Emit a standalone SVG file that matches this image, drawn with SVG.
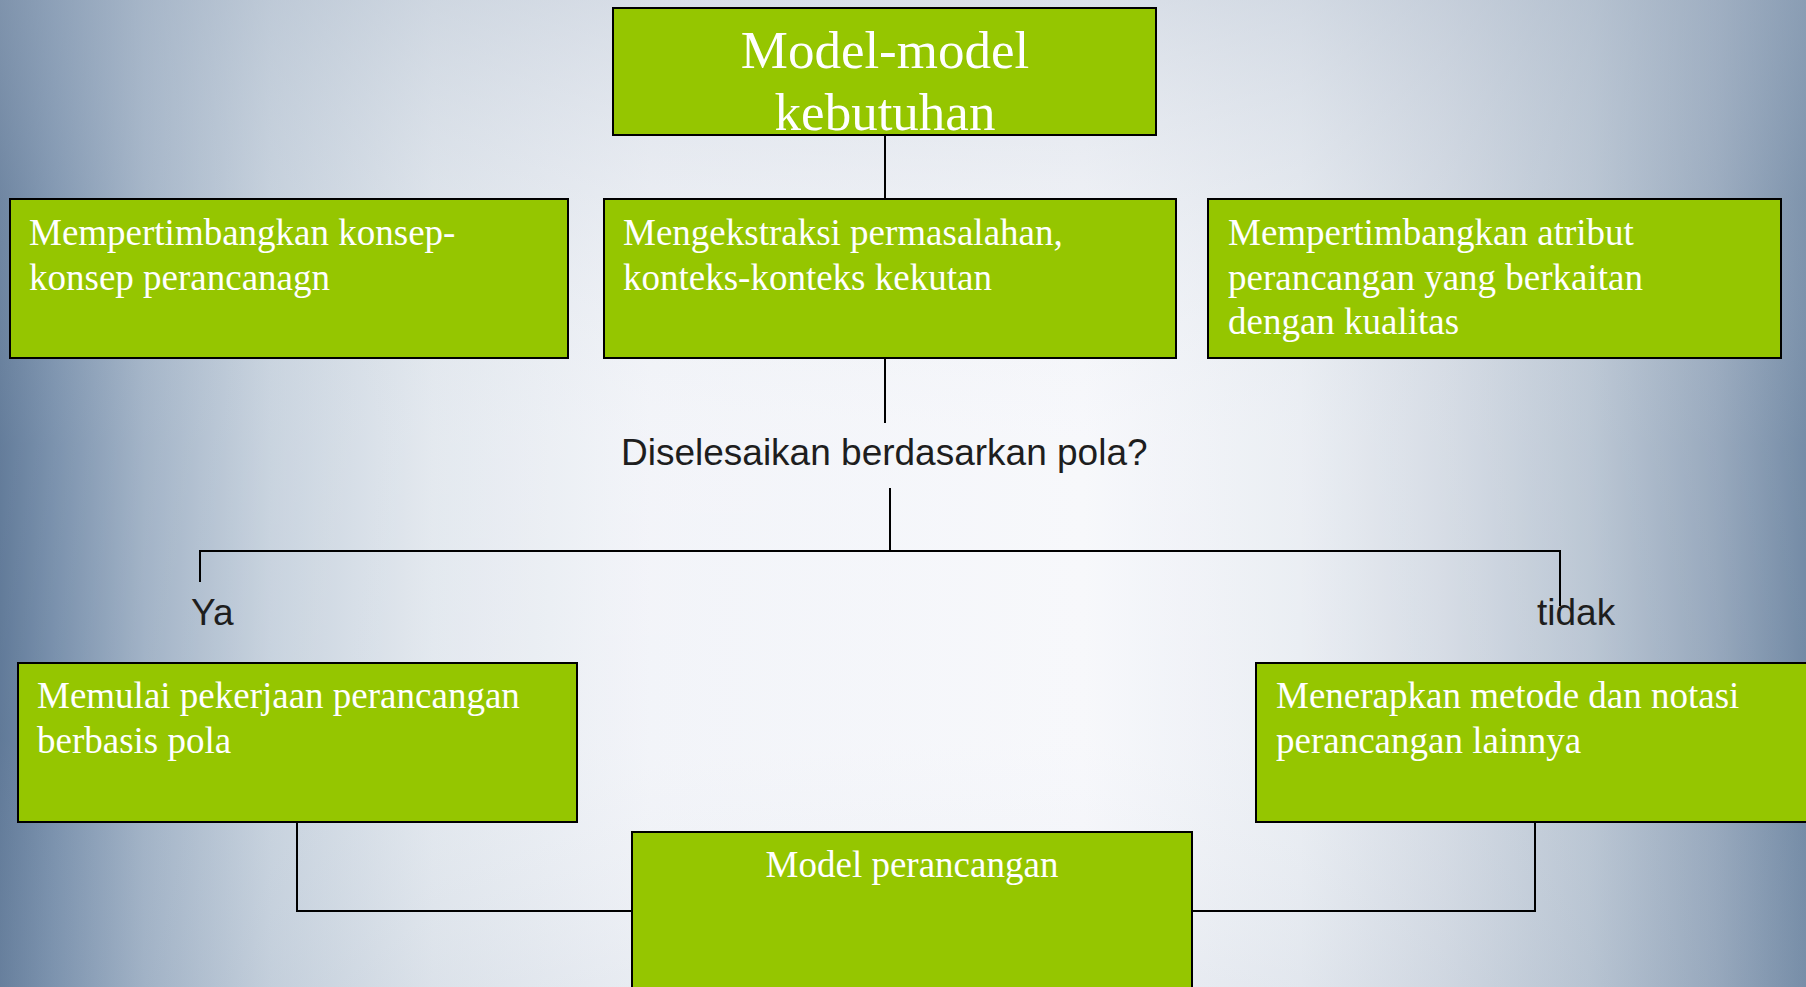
<svg xmlns="http://www.w3.org/2000/svg" width="1806" height="987" viewBox="0 0 1806 987">
<defs>
<linearGradient id="bgH" x1="0" y1="0" x2="1" y2="0">
<stop offset="0" stop-color="#4f6b8d"/>
<stop offset="0.03" stop-color="#6a84a3"/>
<stop offset="0.08" stop-color="#97aac0"/>
<stop offset="0.15" stop-color="#c2cedb"/>
<stop offset="0.24" stop-color="#e0e6ed"/>
<stop offset="0.36" stop-color="#f1f3f8"/>
<stop offset="0.6" stop-color="#f6f7fb"/>
<stop offset="0.72" stop-color="#e8ecf2"/>
<stop offset="0.8" stop-color="#d1d8e2"/>
<stop offset="0.88" stop-color="#b3c0cf"/>
<stop offset="0.95" stop-color="#8b9eb5"/>
<stop offset="1" stop-color="#637d9b"/>
</linearGradient>
<linearGradient id="bgV" x1="0" y1="0" x2="0" y2="1">
<stop offset="0" stop-color="#b9c4d2" stop-opacity="0.45"/>
<stop offset="0.2" stop-color="#d2d9e2" stop-opacity="0.25"/>
<stop offset="0.45" stop-color="#ffffff" stop-opacity="0.12"/>
<stop offset="0.75" stop-color="#ffffff" stop-opacity="0.1"/>
<stop offset="1" stop-color="#c8d1dc" stop-opacity="0.2"/>
</linearGradient>
</defs>
<style>
.box{fill:#95c600;stroke:#000;stroke-width:2}
.bt{font-family:"Liberation Serif","Times New Roman",serif;font-size:37px;fill:#fff}
.bt-big{font-family:"Liberation Serif","Times New Roman",serif;font-size:53px;fill:#fff}
.lbl{font-family:"Liberation Sans",Arial,sans-serif;font-size:37px;fill:#1e1e1e}
.conn{fill:none;stroke:#000;stroke-width:2}
</style>
<rect x="0" y="0" width="1806" height="987" fill="url(#bgH)"/>
<rect x="0" y="0" width="1806" height="987" fill="url(#bgV)"/>

<g id="connectors">
<line class="conn" x1="885" y1="135" x2="885" y2="199"/>
<line class="conn" x1="885" y1="358" x2="885" y2="423"/>
<line class="conn" x1="890" y1="488" x2="890" y2="551"/>
<polyline class="conn" points="200,582 200,551 1560,551 1560,606"/>
<polyline class="conn" points="297,822 297,911 632,911"/>
<polyline class="conn" points="1535,822 1535,911 1192,911"/>
</g>

<g id="node-model-kebutuhan">
<rect class="box" x="613" y="8" width="543" height="127"/>
<text class="bt-big" x="885" y="68" text-anchor="middle">Model-model</text>
<text class="bt-big" x="885" y="130" text-anchor="middle">kebutuhan</text>
</g>

<g id="node-konsep">
<rect class="box" x="10" y="199" width="558" height="159"/>
<text class="bt" x="29" y="245">Mempertimbangkan konsep-</text>
<text class="bt" x="29" y="290">konsep perancanagn</text>
</g>

<g id="node-ekstraksi">
<rect class="box" x="604" y="199" width="572" height="159"/>
<text class="bt" x="623" y="245">Mengekstraksi permasalahan,</text>
<text class="bt" x="623" y="290">konteks-konteks kekutan</text>
</g>

<g id="node-atribut">
<rect class="box" x="1208" y="199" width="573" height="159"/>
<text class="bt" x="1228" y="245">Mempertimbangkan atribut</text>
<text class="bt" x="1228" y="290">perancangan yang berkaitan</text>
<text class="bt" x="1228" y="334">dengan kualitas</text>
</g>

<g id="node-question">
<text class="lbl" x="621" y="465">Diselesaikan berdasarkan pola?</text>
</g>

<g id="label-ya">
<text class="lbl" x="191" y="625">Ya</text>
</g>
<g id="label-tidak">
<text class="lbl" x="1537" y="625">tidak</text>
</g>

<g id="node-pola">
<rect class="box" x="18" y="663" width="559" height="159"/>
<text class="bt" x="37" y="708">Memulai pekerjaan perancangan</text>
<text class="bt" x="37" y="753">berbasis pola</text>
</g>

<g id="node-lainnya">
<rect class="box" x="1256" y="663" width="570" height="159"/>
<text class="bt" x="1276" y="708">Menerapkan metode dan notasi</text>
<text class="bt" x="1276" y="753">perancangan lainnya</text>
</g>

<g id="node-model-perancangan">
<rect class="box" x="632" y="832" width="560" height="175"/>
<text class="bt" x="912" y="877" text-anchor="middle">Model perancangan</text>
</g>
</svg>
